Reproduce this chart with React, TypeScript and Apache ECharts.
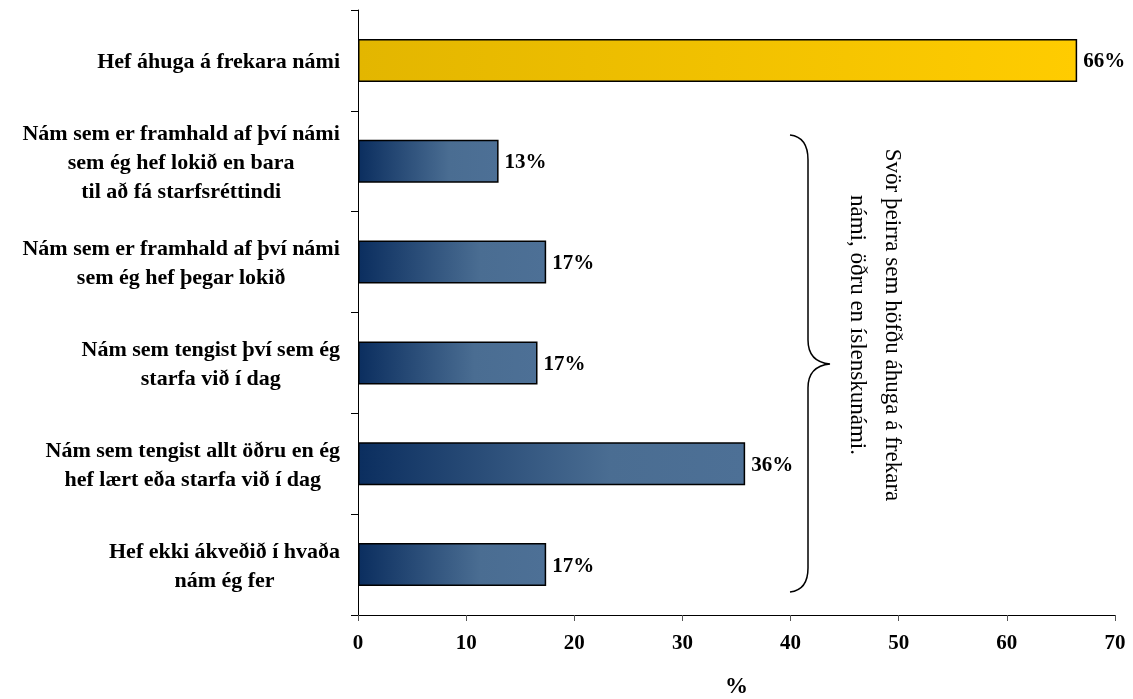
import React, { useEffect, useRef } from "react";
import * as echarts from "echarts";

const categories = [
  "Hef áhuga á frekara námi",
  "Nám sem er framhald af því námi\nsem ég hef lokið en bara\ntil að fá starfsréttindi",
  "Nám sem er framhald af því námi\nsem ég hef þegar lokið",
  "Nám sem tengist því sem ég\nstarfa við í dag",
  "Nám sem tengist allt öðru en ég\nhef lært eða starfa við í dag",
  "Hef ekki ákveðið í hvaða\nnám ég fer",
];
const values = [66.5, 13.0, 17.4, 16.6, 35.8, 17.4];
const valueLabels = ["66%", "13%", "17%", "17%", "36%", "17%"];
const xTicks = { min: 0, max: 70, interval: 10 };
const axisName = "%";
const annotation = "Svör þeirra sem höfðu áhuga á frekara\nnámi, öðru en íslenskunámi.";

const SERIF = "'Liberation Serif', 'Times New Roman', serif";

const blueGrad = new echarts.graphic.LinearGradient(0, 0, 1, 0, [
  { offset: 0, color: "#0b2e5f" },
  { offset: 0.65, color: "#4a6d92" },
  { offset: 1, color: "#4d7096" },
]);
const goldGrad = new echarts.graphic.LinearGradient(0, 0, 1, 0, [
  { offset: 0, color: "#e3b600" },
  { offset: 1, color: "#ffcc00" },
]);

echarts.graphic.registerShape(
  "brace",
  echarts.graphic.extendPath(
    "M0,0 Q18,2 18,25 L18,205 Q18,227 40,229 Q18,231 18,253 L18,433 Q18,455 0,457",
    {}
  )
);

export default function App() {
  const ref = useRef<HTMLDivElement>(null);
  useEffect(() => {
    if (!ref.current) return;
    const chart = echarts.init(ref.current, undefined, { renderer: "svg" });
    chart.setOption({
      animation: false,
      grid: {
        left: 358,
        right: 18,
        top: 10,
        bottom: 84,
        containLabel: false,
        outerBoundsMode: "none",
      },
      xAxis: {
        type: "value",
        min: xTicks.min,
        max: xTicks.max,
        interval: xTicks.interval,
        name: axisName,
        nameLocation: "middle",
        nameGap: 59,
        nameTextStyle: { fontFamily: SERIF, fontWeight: "bold", fontSize: 23, color: "#000" },
        axisLine: { show: true, lineStyle: { color: "#000", width: 1 } },
        axisTick: { show: true, length: 6, lineStyle: { color: "#555" } },
        axisLabel: { margin: 16, fontFamily: SERIF, fontWeight: "bold", fontSize: 21, color: "#000" },
        splitLine: { show: false },
      },
      yAxis: {
        type: "category",
        inverse: true,
        data: categories,
        axisLine: { show: true, lineStyle: { color: "#000", width: 1 } },
        axisTick: { show: true, length: 7, lineStyle: { color: "#000" } },
        axisLabel: {
          margin: 18,
          color: "#000",
          formatter: (v: string) => v.split("\n").map((l) => `{c|${l}}`).join("\n"),
          rich: {
            c: {
              align: "center",
              fontFamily: SERIF,
              fontWeight: "bold",
              fontSize: 22,
              lineHeight: 29,
              color: "#000",
            },
          },
        },
      },
      series: [
        {
          type: "bar",
          barWidth: 43,
          data: values.map((v, i) => ({
            value: v,
            itemStyle: { color: i === 0 ? goldGrad : blueGrad },
          })),
          itemStyle: { borderColor: "#000", borderWidth: 1.5 },
          label: {
            show: true,
            position: "right",
            distance: 6,
            formatter: (p: any) => valueLabels[p.dataIndex],
            fontFamily: SERIF,
            fontWeight: "bold",
            fontSize: 21,
            color: "#000",
          },
        },
      ],
      graphic: [
        {
          type: "brace",
          x: 790,
          y: 135,
          shape: {},
          style: { fill: "none", stroke: "#000", lineWidth: 1.5 },
        },
        {
          type: "text",
          x: 876,
          y: 325,
          rotation: -Math.PI / 2,
          style: {
            text: annotation,
            fontFamily: SERIF,
            fontSize: 23,
            lineHeight: 35,
            fill: "#000",
            align: "center",
            verticalAlign: "middle",
          },
        },
      ],
    });
    return () => chart.dispose();
  }, []);
  return (
    <div
      ref={ref}
      style={{ position: "fixed", left: 0, top: 0, width: 1133, height: 699 }}
    />
  );
}
